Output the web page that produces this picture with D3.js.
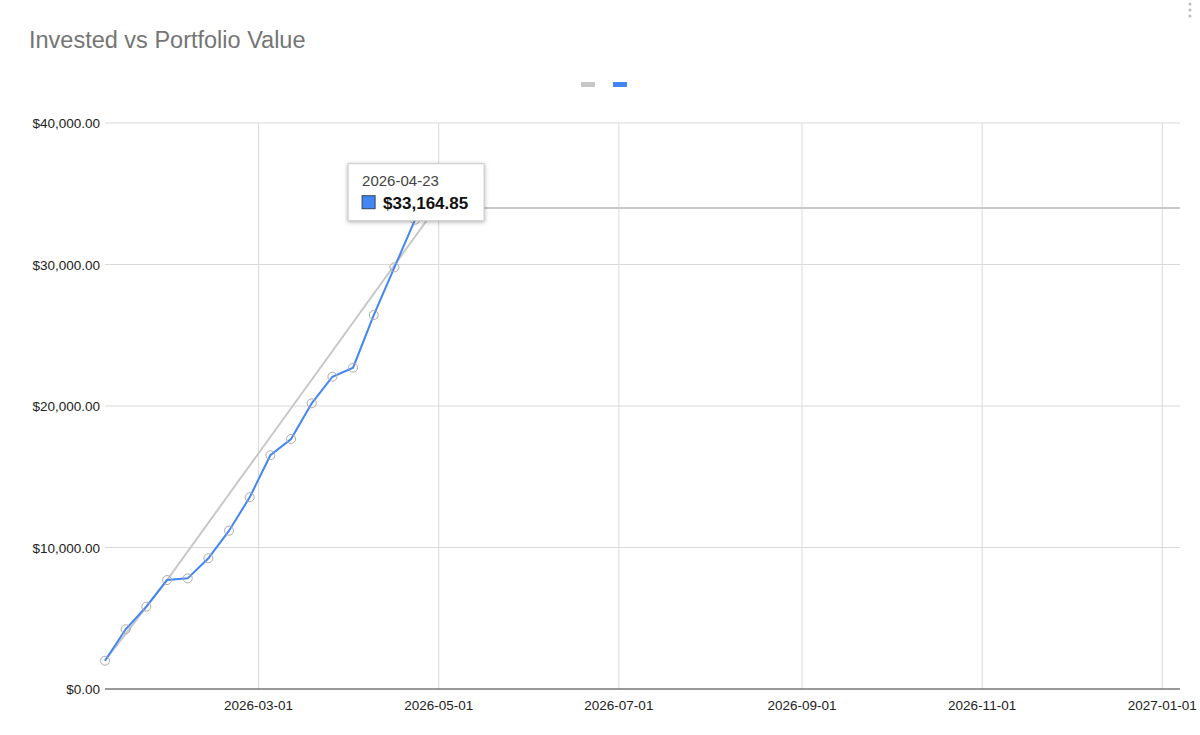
<!DOCTYPE html><html><head><meta charset="utf-8"><script src="https://cdn.jsdelivr.net/npm/d3@7"></script>
<style>body{margin:0;background:#fff;font-family:"Liberation Sans",Arial,sans-serif}</style></head><body><svg id="c" width="1200" height="735"></svg>
<script>
const portfolioDates=["2026-01-08","2026-01-15","2026-01-22","2026-01-29","2026-02-05","2026-02-12","2026-02-19","2026-02-26","2026-03-05","2026-03-12","2026-03-19","2026-03-26","2026-04-02","2026-04-09","2026-04-16","2026-04-23"];
const portfolioValues=[2000,4220,5820,7700,7820,9240,11190,13550,16520,17670,20190,22070,22710,26430,29800,33164.85];
const investedDates=["2026-01-08","2026-01-29","2026-04-30","2027-01-07"];
const investedValues=[2000,7700,34000,34000];
const yTicks=[0,10000,20000,30000,40000];
const xTicks=["2026-03-01","2026-05-01","2026-07-01","2026-09-01","2026-11-01","2027-01-01"];
const parse=d3.utcParse("%Y-%m-%d");
const svg=d3.select("#c");
const x=d3.scaleUtc().domain([parse("2026-01-08"),parse("2027-01-07")]).range([105,1180]);
const y=d3.scaleLinear().domain([0,40000]).range([689,123]);
const fmt=v=>"$"+d3.format(",.2f")(v);
svg.append("text").attr("x",29).attr("y",48).attr("font-size",23.5).attr("fill","#757575").text("Invested vs Portfolio Value");
[0,1,2].forEach(i=>svg.append("circle").attr("cx",1190).attr("cy",4+i*6).attr("r",1.5).attr("fill","#bbb"));
svg.append("rect").attr("x",581).attr("y",82).attr("width",14).attr("height",5).attr("fill","#c8c8c8");
svg.append("rect").attr("x",613).attr("y",82).attr("width",14).attr("height",5).attr("fill","#4285f4");
const g=svg.append("g");
g.selectAll(".yg").data(yTicks.slice(1)).join("line").attr("x1",105).attr("x2",1180).attr("y1",d=>y(d)).attr("y2",d=>y(d)).attr("stroke","#d9d9d9");
g.selectAll(".xg").data(xTicks).join("line").attr("x1",d=>x(parse(d))).attr("x2",d=>x(parse(d))).attr("y1",123).attr("y2",689).attr("stroke","#d9d9d9");
g.selectAll(".yl").data(yTicks).join("text").attr("x",100).attr("y",d=>y(d)+5).attr("text-anchor","end").attr("font-size",13.5).attr("fill","#222").text(fmt);
g.selectAll(".xl").data(xTicks).join("text").attr("x",d=>x(parse(d))).attr("y",710).attr("text-anchor","middle").attr("font-size",13.5).attr("fill","#222").text(d=>d);
g.append("line").attr("x1",105).attr("x2",1180).attr("y1",689).attr("y2",689).attr("stroke","#333");
const line=d3.line().x(d=>x(d[0])).y(d=>y(d[1]));
const inv=investedDates.map((d,i)=>[parse(d),investedValues[i]]);
const pf=portfolioDates.map((d,i)=>[parse(d),portfolioValues[i]]);
g.append("path").attr("d",line(inv)).attr("fill","none").attr("stroke","#c8c8c8").attr("stroke-width",2);
g.append("path").attr("d",line(pf)).attr("fill","none").attr("stroke","#4285f4").attr("stroke-width",2);
g.selectAll(".pt").data(pf).join("circle").attr("cx",d=>x(d[0])).attr("cy",d=>y(d[1])).attr("r",4.5).attr("fill","none").attr("stroke","#aaa").attr("stroke-width",1);
const last=pf[pf.length-1];
const tx=x(last[0])-67, ty=y(last[1])-56;
const tip=svg.append("g").attr("transform",`translate(${tx},${ty})`);
tip.append("rect").attr("x",0).attr("y",0).attr("width",136).attr("height",57).attr("fill","#fff").attr("stroke","#ccc").style("filter","drop-shadow(0 1px 2px rgba(0,0,0,0.3))");
tip.append("text").attr("x",14).attr("y",22).attr("font-size",15).attr("fill","#444").text(portfolioDates[portfolioDates.length-1]);
tip.append("rect").attr("x",14).attr("y",32).attr("width",13).attr("height",13).attr("fill","#4285f4").attr("stroke","#345");
tip.append("text").attr("x",35).attr("y",45).attr("font-size",17).attr("font-weight","bold").attr("fill","#111").text(fmt(last[1]));
</script></body></html>
